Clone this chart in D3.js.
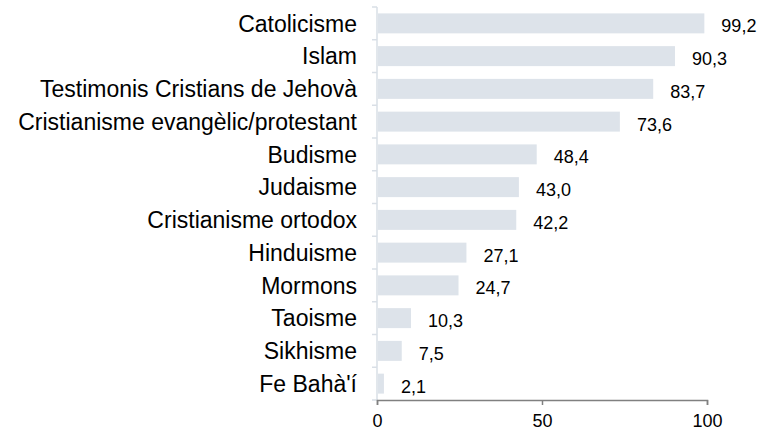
<!DOCTYPE html>
<html>
<head>
<meta charset="utf-8">
<script src="https://cdn.jsdelivr.net/npm/d3@7"></script>
<style>
  body { margin: 0; background: #fff; }
  svg { display: block; font-family: "Liberation Sans", Arial, sans-serif; }
</style>
</head>
<body>
<div id="chart"></div>
<script>
// data
const religions = ["Catolicisme", "Islam", "Testimonis Cristians de Jehovà",
    "Cristianisme evangèlic/protestant", "Budisme", "Judaisme", "Cristianisme ortodox",
    "Hinduisme", "Mormons", "Taoisme", "Sikhisme", "Fe Bahà'í"];
const values = [99.2, 90.3, 83.7, 73.6, 48.4, 43.0, 42.2, 27.1, 24.7, 10.3, 7.5, 2.1];
const xTicks = [0, 50, 100];

let margin = {top: 7, right: 55, bottom: 32, left: 377},
    width = 762 - margin.left - margin.right,
    height = 432 - margin.top - margin.bottom;

let svg = d3.select("#chart").append("svg")
    .attr("width", 762)
    .attr("height", 432)
    .append("g")
    .attr("transform", "translate(" + margin.left + "," + margin.top + ")");

// scales
let x = d3.scaleLinear().domain([0, 100]).range([0, 330]);
let y = d3.scaleBand().domain(religions).range([0, height]).paddingInner(0.39).paddingOuter(0.195);

let data = religions.map((r, i) => ({name: r, value: values[i]}));

// left axis: light line with small ticks at band edges
svg.append("line")
    .attr("x1", 0).attr("x2", 0)
    .attr("y1", 0).attr("y2", height)
    .attr("stroke", "#d9dfe6").attr("stroke-width", 1.5);

let edges = d3.range(religions.length + 1).map(i => i * height / religions.length);
svg.selectAll(".ytick")
    .data(edges)
    .enter().append("line")
    .attr("class", "ytick")
    .attr("x1", -5).attr("x2", 0)
    .attr("y1", d => d).attr("y2", d => d)
    .attr("stroke", "#d9dfe6").attr("stroke-width", 1.5);

// bars
svg.selectAll(".bar")
    .data(data)
    .enter().append("rect")
    .attr("class", "bar")
    .attr("x", 1)
    .attr("y", d => y(d.name))
    .attr("width", d => x(d.value) - 1)
    .attr("height", y.bandwidth())
    .attr("fill", "#dde3ea");

// value labels
svg.selectAll(".val")
    .data(data)
    .enter().append("text")
    .attr("class", "val")
    .attr("x", d => x(d.value) + 17)
    .attr("y", d => y(d.name) + y.bandwidth() / 2)
    .attr("dy", "0.5em")
    .attr("font-size", "18px")
    .attr("fill", "#000")
    .text(d => d.value.toFixed(1).replace(".", ","));

// category labels
svg.selectAll(".cat")
    .data(data)
    .enter().append("text")
    .attr("class", "cat")
    .attr("x", -20)
    .attr("y", d => y(d.name) + y.bandwidth() / 2)
    .attr("dy", "0.36em")
    .attr("text-anchor", "end")
    .attr("font-size", "23px")
    .attr("fill", "#000")
    .text(d => d.name);

// bottom axis
let xAxis = svg.append("g")
    .attr("transform", "translate(0," + height + ")")
    .call(d3.axisBottom(x).tickValues(xTicks).tickSize(5).tickPadding(9).tickFormat(d3.format("d")));
xAxis.select(".domain").attr("stroke", "#808080").attr("stroke-width", 1.5);
xAxis.selectAll(".tick line").attr("stroke", "#808080").attr("stroke-width", 1.5);
xAxis.selectAll(".tick text")
    .attr("font-size", "18px")
    .attr("font-family", "'Liberation Sans', Arial, sans-serif")
    .attr("fill", "#000");
</script>
</body>
</html>
